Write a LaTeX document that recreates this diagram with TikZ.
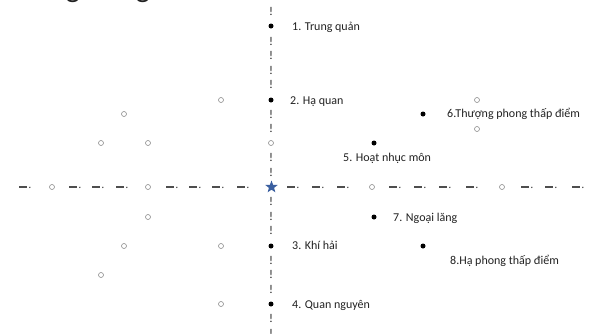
\documentclass[tikz,border=0pt]{standalone}
\usepackage{fontspec}
\setmainfont{Carlito}
\usetikzlibrary{shapes.geometric}
\definecolor{starblue}{RGB}{58,95,160}
\definecolor{inkgray}{RGB}{34,34,34}
\definecolor{ringgray}{RGB}{140,140,140}
\tikzset{
  ring/.style={circle,draw=ringgray,line width=0.6pt,minimum size=5pt,inner sep=0pt},
  spot/.style={circle,fill=black,minimum size=5pt,inner sep=0pt},
  tick/.style={inner sep=0pt,text=inkgray,font=\fontsize{12}{14}\selectfont},
  lbl/.style={anchor=base west,inner sep=0pt,text=inkgray,font=\fontsize{12}{14}\selectfont},
  dashmark/.style={draw=inkgray!80,line width=1.1pt},
  centre/.style={star,star points=5,star point ratio=2.4,minimum size=13pt,inner sep=0pt,fill=starblue}
}
\begin{document}
\begin{tikzpicture}[x=1pt,y=-1pt]
\useasboundingbox (0,0) rectangle (595,333);
\fill[white] (0,0) rectangle (595,333);

% remnants of a heading above the frame
\begin{scope}
\clip (0,0) rectangle (595,333);
\node[anchor=base,inner sep=0pt,text=inkgray,font=\fontsize{30}{32}\selectfont] (ga) at (73,-2.5) {g};
\node[anchor=base,inner sep=0pt,text=inkgray,font=\fontsize{30}{32}\selectfont] (gb) at (143,-2.5) {g};
\end{scope}

% vertical axis: exclamation marks on a 14.6px grid
\foreach \k in {12,10,9,8,7,5,4,2,1,-1,-2,-3,-5,-6,-7,-9,-10}{
  \node[tick] (v\k) at (271,{187-\k*14.6}) {!};
}

% horizontal axis: dash-dot marks
\foreach \x in {25,75,98,122,172,195,218,243,293,318,343,395,420,445,472,527,551,578}{
  \draw[dashmark] (\x-6,187) -- (\x+1.5,187);
  \fill[inkgray!80] (\x+4.8,187.3) circle (0.8pt);
}

% centre
\node[centre] (c) at (271.5,187) {};

% open circles
\foreach \x/\y [count=\i] in {221/100,124/114,101/143,148/143,271/143,477/100,477/129,
  52/187,148/187,372/187,502/187,148/217,124/246,221/246,101/275,221/304}{
  \node[ring] (r\i) at (\x,\y) {};
}

% acupoints
\node[spot] (p1) at (271,26) {};
\node[spot] (p2) at (271,100) {};
\node[spot] (p3) at (271,246) {};
\node[spot] (p4) at (271,304) {};
\node[spot] (p5) at (374,143) {};
\node[spot] (p6) at (423,114) {};
\node[spot] (p7) at (374,217) {};
\node[spot] (p8) at (423,246) {};

% labels
\node[lbl] (l1) at (292,30) {1. Trung quản};
\node[lbl] (l2) at (290,104) {2. Hạ quan};
\node[lbl] (l3) at (292,249) {3. Khí hải};
\node[lbl] (l4) at (292,308) {4. Quan nguyên};
\node[lbl] (l5) at (343,161) {5. Hoạt nhục môn};
\node[lbl] (l6) at (447,117) {6.Thượng phong thấp điểm};
\node[lbl] (l7) at (393,221) {7. Ngoại lăng};
\node[lbl] (l8) at (450,264) {8.Hạ phong thấp điểm};
\end{tikzpicture}
\end{document}
